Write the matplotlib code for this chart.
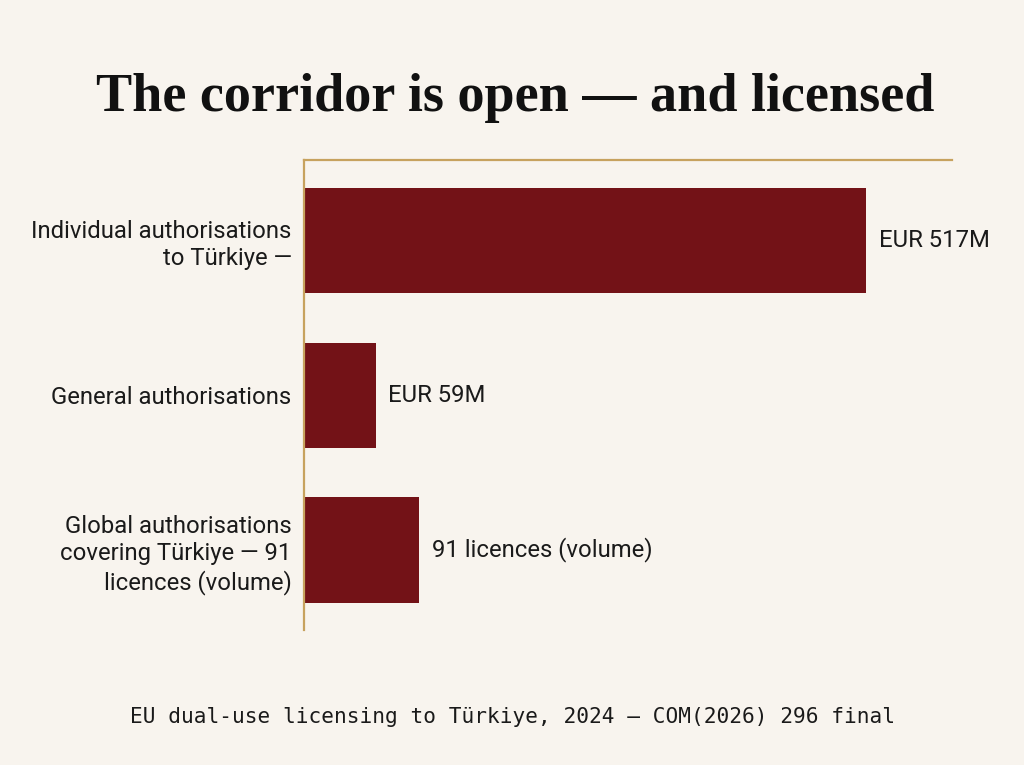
import matplotlib.pyplot as plt

categories = [
    "Individual authorisations\nto Türkiye —",
    "General authorisations",
    "Global authorisations\ncovering Türkiye — 91\nlicences (volume)",
]
# bar lengths (scale of the top bar = 517)
bar_lengths = [517, 66, 106]
value_labels = ["EUR 517M", "EUR 59M", "91 licences (volume)"]

title = "The corridor is open — and licensed"
footer = "EU dual-use licensing to Türkiye, 2024 — COM(2026) 296 final"

bg = "#f8f4ee"
bar_color = "#731217"
gold = "#c7a25e"
ink = "#1a1a1a"


def main():
    fig = plt.figure(figsize=(10.24, 7.65), dpi=100, facecolor=bg)
    ax = fig.add_axes([0.297, 0.176, 0.633, 0.615])
    ax.set_facecolor(bg)

    ypos = list(range(len(categories)))
    ax.barh(ypos, bar_lengths, height=0.68, color=bar_color)

    ax.set_xlim(0, 596)
    ax.set_ylim(2.52, -0.52)

    for y, v, lab in zip(ypos, bar_lengths, value_labels):
        ax.annotate(lab, (v, y), xytext=(9, 0), textcoords="offset points",
                    va="center", ha="left", fontsize=17.2, family="Roboto",
                    color=ink)

    ax.set_yticks(ypos)
    ax.set_yticklabels(categories, fontsize=17.2, family="Roboto", color=ink,
                       linespacing=1.25)
    ax.tick_params(axis="y", length=0, pad=9)
    ax.set_xticks([])

    for side in ["right", "bottom"]:
        ax.spines[side].set_visible(False)
    for side in ["left", "top"]:
        ax.spines[side].set_color(gold)
        ax.spines[side].set_linewidth(1.6)

    fig.text(0.503, 0.872, title, ha="center", va="center", fontsize=39,
             family="Liberation Serif", fontweight="bold", color="#111111")
    fig.text(0.5, 0.063, footer, ha="center", va="center", fontsize=15.25,
             family="DejaVu Sans Mono", color=ink)

    fig.savefig("out.png", dpi=100, facecolor=bg)
    plt.close(fig)


if __name__ == "__main__":
    main()
